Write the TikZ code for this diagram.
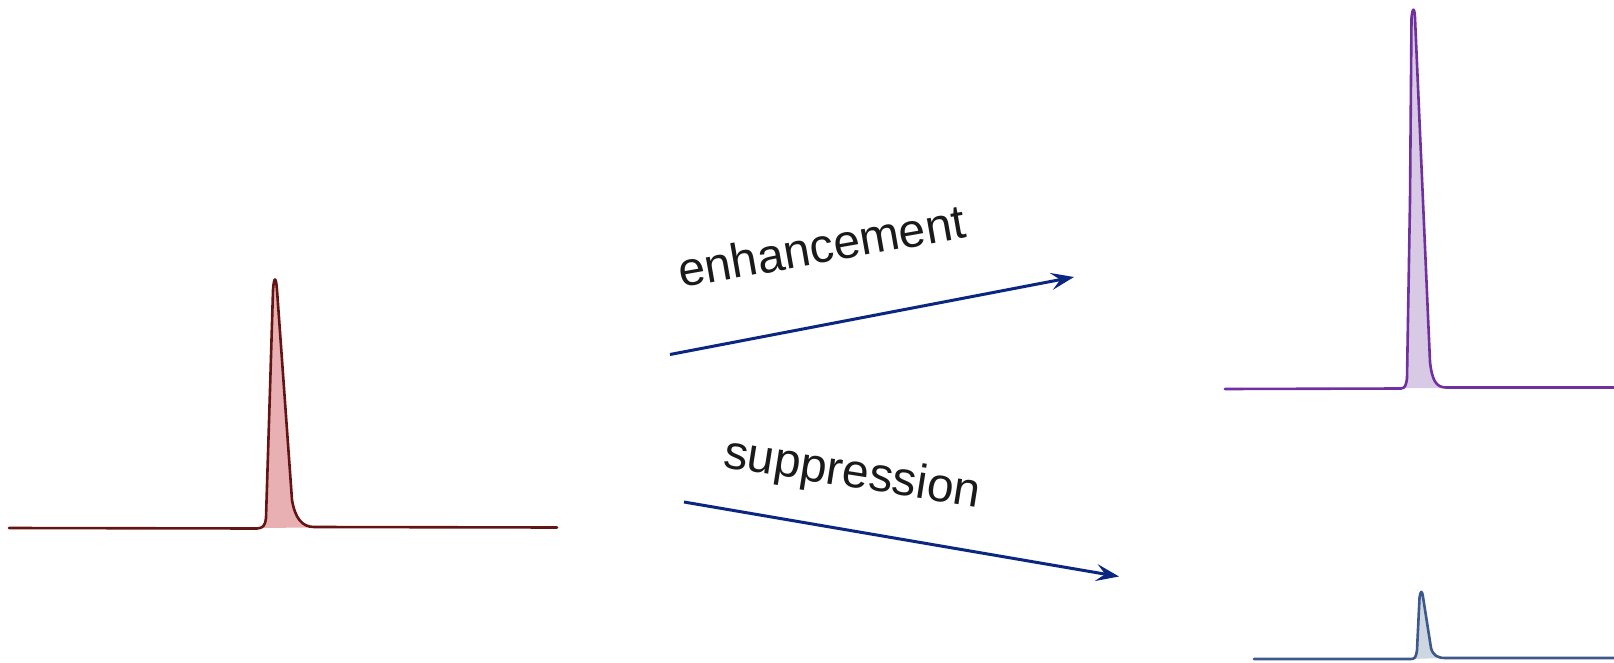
\documentclass[tikz,border=0pt]{standalone}
\usepackage{fontspec}
\setmainfont{Liberation Sans}
\usetikzlibrary{arrows.meta}
\definecolor{arrowblue}{RGB}{10,38,128}
\definecolor{redline}{RGB}{100,20,20}
\definecolor{redfill}{RGB}{232,176,178}
\definecolor{purpleline}{RGB}{112,48,160}
\definecolor{purplefill}{RGB}{216,202,228}
\definecolor{blueline}{RGB}{60,88,140}
\definecolor{bluefill}{RGB}{206,214,226}
\definecolor{textdark}{RGB}{26,26,26}
\begin{document}
\begin{tikzpicture}[x=1pt,y=-1pt,
  flow/.style={draw=arrowblue, line width=3pt, -{Stealth[length=23pt,width=17pt,inset=9pt]}},
  lbl/.style={font=\fontsize{48}{57}\selectfont, text=textdark, inner sep=0pt, anchor=base west},
  curve/.style={line width=2.6pt, line join=round, line cap=round},
]
\useasboundingbox (0,0) rectangle (1614,663);

% left (original) peak
\fill[redfill] (257,528) .. controls (263,528) and (265,526) .. (266,518) -- (270,390)
  -- (273,290) .. controls (274,276) and (276,276) .. (277,290) -- (292,500)
  .. controls (295,518) and (302,527) .. (314,527.5) -- cycle;
\draw[curve, draw=redline] (9,528) -- (257,528.5) .. controls (263,528) and (265,526) .. (266,518) -- (270,390)
  -- (273,290) .. controls (274,276) and (276,276) .. (277,290) -- (292,500)
  .. controls (295,518) and (302,527) .. (314,527) -- (557,527.5);

% top right (enhanced) peak
\fill[purplefill] (1401,388) .. controls (1405,388) and (1406,386) .. (1407,378) -- (1410,200)
  -- (1411.5,18) .. controls (1412.5,7) and (1414.5,7) .. (1415,18) -- (1430,362)
  .. controls (1432,380) and (1436,388) .. (1446,388) -- cycle;
\draw[curve, draw=purpleline] (1225,389) -- (1401,388.5) .. controls (1405,388) and (1406,386) .. (1407,378) -- (1410,200)
  -- (1411.5,18) .. controls (1412.5,7) and (1414.5,7) .. (1415,18) -- (1430,362)
  .. controls (1432,380) and (1436,387.5) .. (1446,387.5) -- (1614,387.5);

% bottom right (suppressed) peak
\fill[bluefill] (1411,659) .. controls (1415,659) and (1416,657) .. (1417,650) -- (1419.5,598)
  .. controls (1420.5,590) and (1422,590) .. (1423,597) -- (1431,648)
  .. controls (1433,655) and (1437,658) .. (1445,658) -- cycle;
\draw[curve, draw=blueline] (1254,659) -- (1411,659) .. controls (1415,659) and (1416,657) .. (1417,650) -- (1419.5,598)
  .. controls (1420.5,590) and (1422,590) .. (1423,597) -- (1431,648)
  .. controls (1433,655) and (1437,658) .. (1445,658) -- (1614,658);

% arrows
\coordinate (enhStart) at (670,354.5);
\coordinate (enhEnd) at (1074,277);
\coordinate (supStart) at (684,502);
\coordinate (supEnd) at (1119,576.5);
\draw[flow] (enhStart) -- (enhEnd);
\draw[flow] (supStart) -- (supEnd);

% labels
\node[lbl, rotate=10] (enhLabel) at (681,288) {enhancement};
\node[lbl, rotate=-9] (supLabel) at (722,467) {suppression};
\end{tikzpicture}
\end{document}
